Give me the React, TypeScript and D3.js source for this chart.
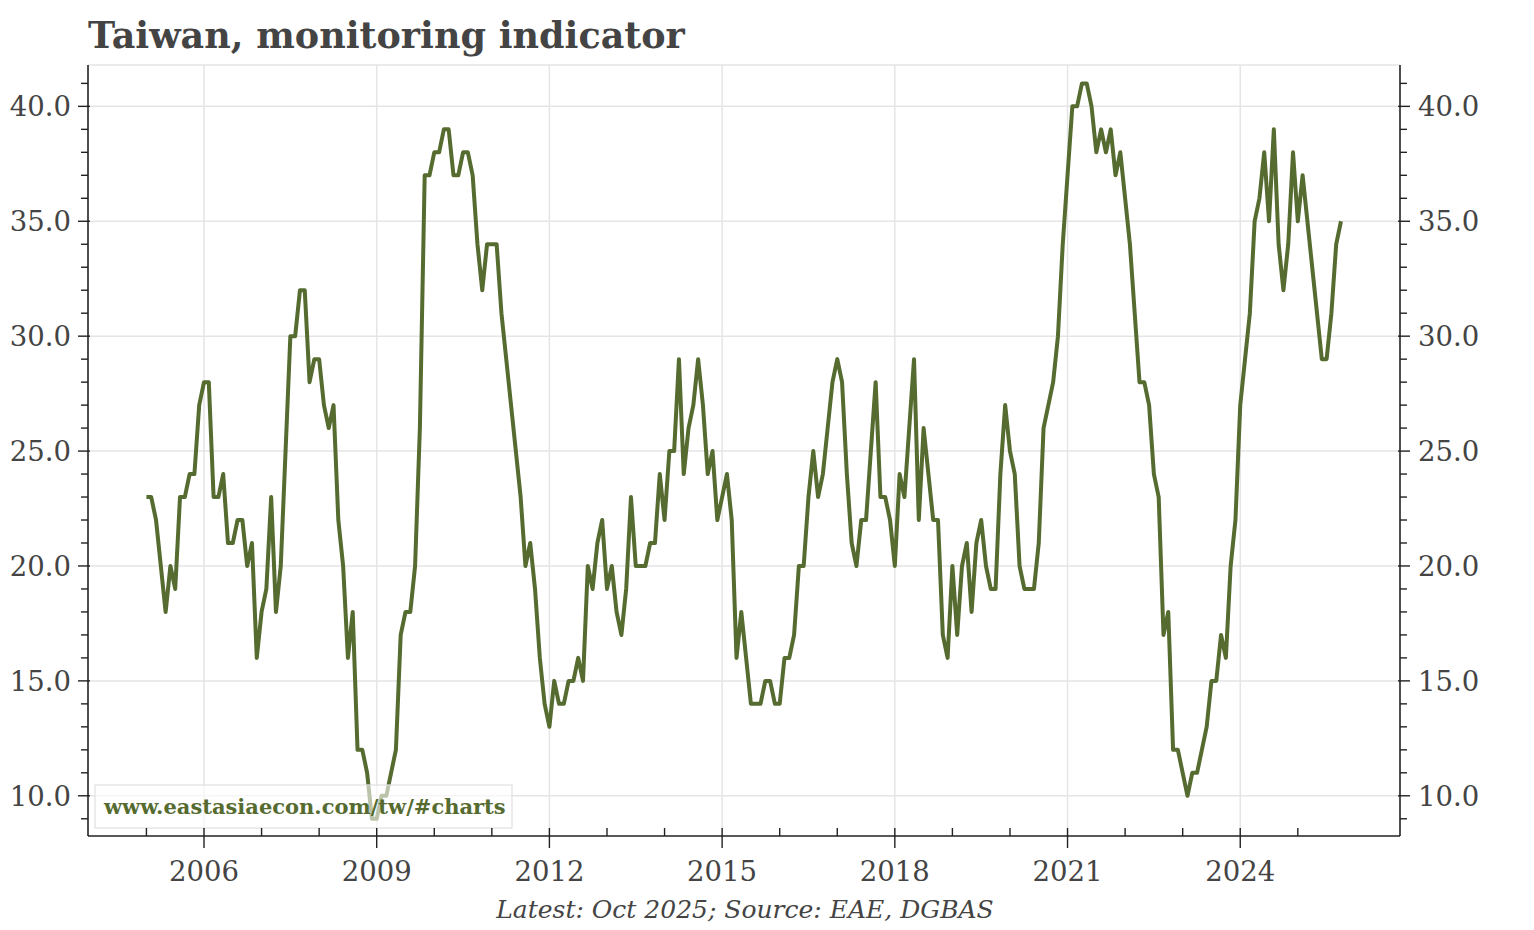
import * as d3 from "d3";
import React from "react";

// Taiwan business monitoring indicator (score), monthly from Jan 2005
const startYear = 2005;
const scores = [
  23, 23, 22, 20, 18, 20, 19, 23, 23, 24, 24, 27, // 2005
  28, 28, 23, 23, 24, 21, 21, 22, 22, 20, 21, 16, // 2006
  18, 19, 23, 18, 20, 25, 30, 30, 32, 32, 28, 29, // 2007
  29, 27, 26, 27, 22, 20, 16, 18, 12, 12, 11, 9, // 2008
  9, 10, 10, 11, 12, 17, 18, 18, 20, 26, 37, 37, // 2009
  38, 38, 39, 39, 37, 37, 38, 38, 37, 34, 32, 34, // 2010
  34, 34, 31, 29, 27, 25, 23, 20, 21, 19, 16, 14, // 2011
  13, 15, 14, 14, 15, 15, 16, 15, 20, 19, 21, 22, // 2012
  19, 20, 18, 17, 19, 23, 20, 20, 20, 21, 21, 24, // 2013
  22, 25, 25, 29, 24, 26, 27, 29, 27, 24, 25, 22, // 2014
  23, 24, 22, 16, 18, 16, 14, 14, 14, 15, 15, 14, // 2015
  14, 16, 16, 17, 20, 20, 23, 25, 23, 24, 26, 28, // 2016
  29, 28, 24, 21, 20, 22, 22, 25, 28, 23, 23, 22, // 2017
  20, 24, 23, 26, 29, 22, 26, 24, 22, 22, 17, 16, // 2018
  20, 17, 20, 21, 18, 21, 22, 20, 19, 19, 24, 27, // 2019
  25, 24, 20, 19, 19, 19, 21, 26, 27, 28, 30, 34, // 2020
  37, 40, 40, 41, 41, 40, 38, 39, 38, 39, 37, 38, // 2021
  36, 34, 31, 28, 28, 27, 24, 23, 17, 18, 12, 12, // 2022
  11, 10, 11, 11, 12, 13, 15, 15, 17, 16, 20, 22, // 2023
  27, 29, 31, 35, 36, 38, 35, 39, 34, 32, 34, 38, // 2024
  35, 37, 35, 33, 31, 29, 29, 31, 34, 35, // 2025 (to Oct)
];

const xLabelYears = [2006, 2009, 2012, 2015, 2018, 2021, 2024];
const xMinorYears = d3.range(2005, 2026);
const yLabelValues = [10, 15, 20, 25, 30, 35, 40];
const yMinorValues = d3.range(9, 42);

const title = "Taiwan, monitoring indicator";
const caption = "Latest: Oct 2025; Source: EAE, DGBAS";
const watermark = "www.eastasiaecon.com/tw/#charts";

const W = 1534;
const H = 930;
const plot = { left: 88, right: 1400, top: 65, bottom: 836 };
const lineColor = "#556b2f";
const textColor = "#444";
const gridColor = "#e5e5e5";
const axisColor = "#222";

export default function App() {
  const points = scores.map((v, i) => ({ t: startYear + i / 12, v }));

  const x = d3.scaleLinear().domain([2003.985, 2026.775]).range([plot.left, plot.right]);
  const y = d3.scaleLinear().domain([8.25, 41.8]).range([plot.bottom, plot.top]);

  const line = d3
    .line<{ t: number; v: number }>()
    .x((d) => x(d.t))
    .y((d) => y(d.v));

  const fmt = d3.format(".1f");

  return (
    <svg
      width={W}
      height={H}
      style={{ position: "absolute", left: 0, top: 0, background: "#fff" }}
      fontFamily="'DejaVu Serif', serif"
    >
      {/* title */}
      <text x={plot.left} y={48} fontSize={36.5} fontWeight="bold" fill={textColor}>
        {title}
      </text>

      {/* grid */}
      <line x1={plot.left} x2={plot.right} y1={plot.top} y2={plot.top} stroke={gridColor} strokeWidth={1.5} />
      {yLabelValues.map((v) => (
        <line key={"gy" + v} x1={plot.left} x2={plot.right} y1={y(v)} y2={y(v)} stroke={gridColor} strokeWidth={1.5} />
      ))}
      {xLabelYears.map((yr) => (
        <line key={"gx" + yr} x1={x(yr)} x2={x(yr)} y1={plot.top} y2={plot.bottom} stroke={gridColor} strokeWidth={1.5} />
      ))}

      {/* series */}
      <path d={line(points)!} fill="none" stroke={lineColor} strokeWidth={4} strokeLinejoin="round" />

      {/* watermark */}
      <rect x={95} y={785} width={417} height={43} fill="#fff" fillOpacity={0.6} stroke="#e0e0e0" strokeWidth={1.2} />
      <text x={104} y={814} fontSize={21} fontWeight="bold" fill={lineColor}>
        {watermark}
      </text>

      {/* axes */}
      <line x1={plot.left} x2={plot.left} y1={plot.top} y2={plot.bottom} stroke={axisColor} strokeWidth={1.6} />
      <line x1={plot.right} x2={plot.right} y1={plot.top} y2={plot.bottom} stroke={axisColor} strokeWidth={1.6} />
      <line x1={plot.left} x2={plot.right} y1={plot.bottom} y2={plot.bottom} stroke={axisColor} strokeWidth={1.6} />

      {yMinorValues
        .filter((v) => v % 5 !== 0)
        .map((v) => (
          <g key={"my" + v} stroke={axisColor} strokeWidth={1.4}>
            <line x1={plot.left - 7} x2={plot.left} y1={y(v)} y2={y(v)} />
            <line x1={plot.right} x2={plot.right + 7} y1={y(v)} y2={y(v)} />
          </g>
        ))}
      {yLabelValues.map((v) => (
        <g key={"ty" + v}>
          <line x1={plot.left - 10} x2={plot.left + 2} y1={y(v)} y2={y(v)} stroke={axisColor} strokeWidth={1.4} />
          <line x1={plot.right - 2} x2={plot.right + 10} y1={y(v)} y2={y(v)} stroke={axisColor} strokeWidth={1.4} />
          <text x={plot.left - 17} y={y(v) + 10} textAnchor="end" fontSize={27.5} fill={textColor}>
            {fmt(v)}
          </text>
          <text x={plot.right + 18} y={y(v) + 10} textAnchor="start" fontSize={27.5} fill={textColor}>
            {fmt(v)}
          </text>
        </g>
      ))}

      {xMinorYears
        .filter((yr) => !xLabelYears.includes(yr))
        .map((yr) => (
          <line key={"mx" + yr} x1={x(yr)} x2={x(yr)} y1={plot.bottom - 8} y2={plot.bottom} stroke={axisColor} strokeWidth={1.4} />
        ))}
      {xLabelYears.map((yr) => (
        <g key={"tx" + yr}>
          <line x1={x(yr)} x2={x(yr)} y1={plot.bottom - 8} y2={plot.bottom + 12} stroke={axisColor} strokeWidth={1.4} />
          <text x={x(yr)} y={881} textAnchor="middle" fontSize={27.5} fill={textColor}>
            {yr}
          </text>
        </g>
      ))}

      {/* caption */}
      <text x={745} y={918} textAnchor="middle" fontSize={25} fontStyle="italic" fill={textColor}>
        {caption}
      </text>
    </svg>
  );
}
